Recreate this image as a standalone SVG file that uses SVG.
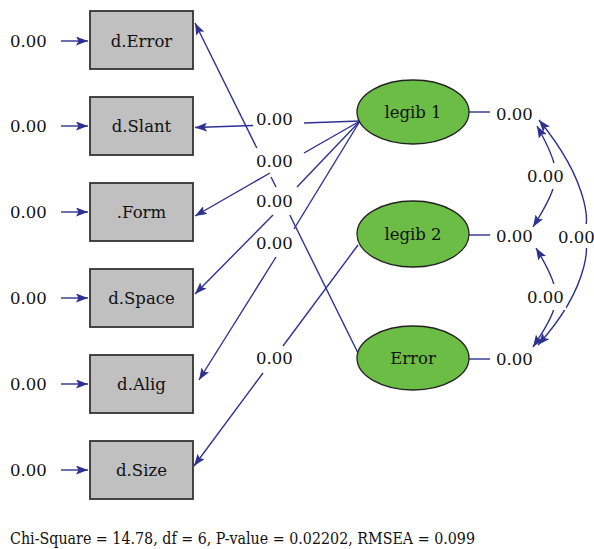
<svg xmlns="http://www.w3.org/2000/svg" width="594" height="549" viewBox="0 0 594 549">
<style>
text{font-family:"DejaVu Serif","Liberation Serif",serif;fill:#111;}
.n{font-size:16.5px;}
.lb{font-size:16.5px;text-anchor:middle;}
.box{fill:#c0c0c0;stroke:#333;stroke-width:1.8;}
.ell{fill:#6bbd45;stroke:#222;stroke-width:1.3;}
.c line,.c path{stroke:#2e3192;stroke-width:1.4;fill:none;}
.a{marker-end:url(#ah);}
.d{marker-start:url(#ah2);marker-end:url(#ah);}
.wb{fill:#fff;}
</style>
<defs>
<marker id="ah" markerUnits="userSpaceOnUse" markerWidth="13" markerHeight="9" refX="12" refY="4.5" orient="auto">
<path d="M0,0 L12,4.5 L0,9 L2.5,4.5 z" fill="#2e3192"/>
</marker>
<marker id="ah2" markerUnits="userSpaceOnUse" markerWidth="13" markerHeight="9" refX="12" refY="4.5" orient="auto-start-reverse">
<path d="M0,0 L12,4.5 L0,9 L2.5,4.5 z" fill="#2e3192"/>
</marker>
</defs>
<g id="connectors" class="c">
<line class="a" x1="61" y1="41" x2="88" y2="41"/>
<line class="a" x1="61" y1="126" x2="88" y2="126"/>
<line class="a" x1="61" y1="212" x2="88" y2="212"/>
<line class="a" x1="61" y1="298" x2="88" y2="298"/>
<line class="a" x1="61" y1="384" x2="88" y2="384"/>
<line class="a" x1="61" y1="470" x2="88" y2="470"/>
<line x1="360" y1="121" x2="304" y2="123"/>
<line class="a" x1="253" y1="125.5" x2="195" y2="127.5"/>
<line x1="360" y1="121" x2="304" y2="153"/>
<line class="a" x1="270" y1="173" x2="195" y2="216"/>
<line x1="360" y1="121" x2="297" y2="187"/>
<line class="a" x1="273" y1="215" x2="195" y2="294"/>
<line x1="360" y1="121" x2="294" y2="229"/>
<line class="a" x1="276" y1="257" x2="199" y2="380"/>
<line x1="358" y1="245" x2="283" y2="346"/>
<line class="a" x1="263" y1="373" x2="194" y2="466"/>
<line x1="358" y1="353" x2="289.8" y2="215"/>
<line x1="276" y1="187" x2="271" y2="177"/>
<line class="a" x1="256.8" y1="148" x2="195" y2="23"/>
<line x1="469" y1="112" x2="490" y2="112"/>
<line x1="469" y1="235" x2="490" y2="235"/>
<line x1="469" y1="359" x2="490" y2="359"/>
<path class="d" d="M549,176 Q565,176 537,126"/>
<path class="d" d="M549,176 Q565,176 533,227"/>
<path class="d" d="M549,298 Q566,298 536,248"/>
<path class="d" d="M549,298 Q566,298 533,347"/>
<path class="d" d="M580,234 C592,234 592,185 539,120"/>
<path class="d" d="M580,234 C592,234 592,285 538,345"/>
<rect class="wb" x="524" y="163" width="42" height="26"/>
<rect class="wb" x="524" y="284" width="42" height="26"/>
<rect class="wb" x="556" y="224" width="38" height="24"/>
</g>
<g id="n_derror"><rect class="box" x="90" y="11" width="103" height="58"/><text class="lb" x="141.5" y="47">d.Error</text></g>
<g id="n_dslant"><rect class="box" x="90" y="97" width="103" height="58"/><text class="lb" x="141.5" y="132">d.Slant</text></g>
<g id="n_form"><rect class="box" x="90" y="183" width="103" height="58"/><text class="lb" x="141.5" y="218">.Form</text></g>
<g id="n_dspace"><rect class="box" x="90" y="269" width="103" height="58"/><text class="lb" x="141.5" y="304">d.Space</text></g>
<g id="n_dalig"><rect class="box" x="90" y="355" width="103" height="58"/><text class="lb" x="141.5" y="390">d.Alig</text></g>
<g id="n_dsize"><rect class="box" x="90" y="441" width="103" height="58"/><text class="lb" x="141.5" y="476">d.Size</text></g>
<g id="n_legib1"><ellipse class="ell" cx="413" cy="112" rx="56" ry="32"/><text class="lb" x="413" y="118">legib 1</text></g>
<g id="n_legib2"><ellipse class="ell" cx="413" cy="234" rx="56" ry="33"/><text class="lb" x="413" y="240">legib 2</text></g>
<g id="n_error"><ellipse class="ell" cx="413" cy="358" rx="56" ry="32"/><text class="lb" x="413" y="364">Error</text></g>
<g id="labels">
<text class="n" x="10" y="47">0.00</text>
<text class="n" x="10" y="132">0.00</text>
<text class="n" x="10" y="218">0.00</text>
<text class="n" x="10" y="304">0.00</text>
<text class="n" x="10" y="390">0.00</text>
<text class="n" x="10" y="476">0.00</text>
<text class="n" x="256" y="125">0.00</text>
<text class="n" x="256" y="167">0.00</text>
<text class="n" x="256" y="207">0.00</text>
<text class="n" x="256" y="249">0.00</text>
<text class="n" x="256" y="364">0.00</text>
<text class="n" x="496" y="120">0.00</text>
<text class="n" x="496" y="242">0.00</text>
<text class="n" x="496" y="365">0.00</text>
<text class="n" x="527" y="182">0.00</text>
<text class="n" x="527" y="303">0.00</text>
<text class="n" x="558" y="243">0.00</text>
<text x="10" y="544" font-size="17.5" textLength="465" lengthAdjust="spacingAndGlyphs">Chi-Square = 14.78, df = 6, P-value = 0.02202, RMSEA = 0.099</text>
</g>
</svg>
